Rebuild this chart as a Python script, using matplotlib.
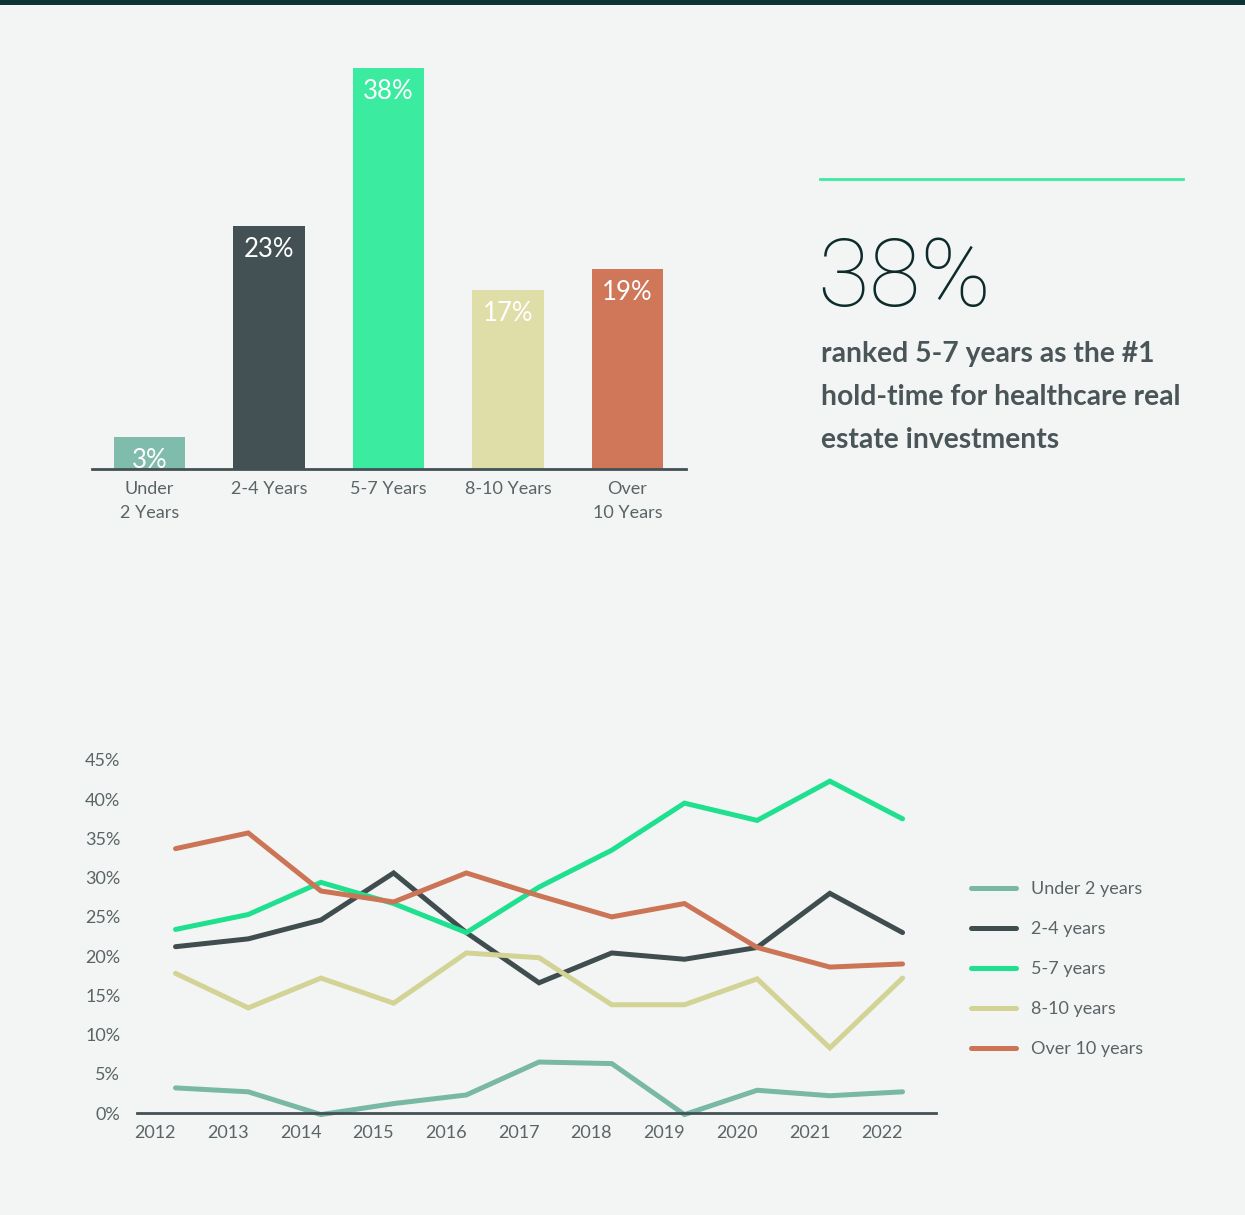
import matplotlib.pyplot as plt
from matplotlib.patches import Rectangle
from matplotlib.lines import Line2D

plt.rcParams["font.family"] = ["Lato", "DejaVu Sans"]

# hold-period survey, share of respondents
hold_labels = ["Under\n2 Years", "2-4 Years", "5-7 Years", "8-10 Years", "Over\n10 Years"]
hold_share = [3, 23, 38, 17, 19]
bar_colors = ["#80bcab", "#435155", "#3beb9f", "#dfdda8", "#d0775a"]

# yearly trend by hold period
years = ["2012", "2013", "2014", "2015", "2016", "2017", "2018", "2019", "2020", "2021", "2022"]
under_2 = [3.2, 2.7, -0.2, 1.2, 2.3, 6.5, 6.3, -0.2, 2.9, 2.2, 2.7]
y_2_4 = [21.2, 22.2, 24.6, 30.6, 23.0, 16.6, 20.4, 19.6, 21.1, 28.0, 23.0]
y_5_7 = [23.4, 25.3, 29.4, 26.7, 23.0, 28.8, 33.5, 39.5, 37.3, 42.3, 37.5]
y_8_10 = [17.8, 13.4, 17.2, 14.0, 20.4, 19.8, 13.8, 13.8, 17.1, 8.3, 17.2]
over_10 = [33.7, 35.7, 28.3, 26.9, 30.6, 27.7, 25.0, 26.7, 21.1, 18.6, 19.0]
series_names = ["Under 2 years", "2-4 years", "5-7 years", "8-10 years", "Over 10 years"]
line_colors = ["#7ab8a6", "#3f4d4f", "#1ee08e", "#d4d396", "#cc7456"]

BG = "#f3f5f4"
TXT = "#5a6466"
W, H = 1245, 1215

fig = plt.figure(figsize=(W / 100, H / 100), dpi=100, facecolor=BG)


def px_axes(left, top, right, bottom):
    return fig.add_axes([left / W, 1 - bottom / H, (right - left) / W, (bottom - top) / H])


# dark strip along the top edge
fig.patches.append(Rectangle((0, 1 - 5 / H), 1, 5 / H, transform=fig.transFigure,
                             facecolor="#0d3336", edgecolor="none"))

# --- bar chart ---
ax = px_axes(92, 47, 686, 469)
ax.set_facecolor("none")
xs = range(len(hold_share))
ax.bar(xs, hold_share, width=0.6, color=bar_colors)
ax.set_xlim(-0.48, 4.49)
ax.set_ylim(0, 40)
for x, v in zip(xs, hold_share):
    ax.annotate(f"{v}%", (x, v), xytext=(0, -17), textcoords="offset points",
                ha="center", va="center", color="white", fontsize=18.5)
ax.set_xticks(list(xs))
ax.set_xticklabels(hold_labels, fontsize=13, color=TXT, linespacing=1.55, va="top")
ax.tick_params(axis="x", length=0, pad=9)
ax.set_yticks([])
for s in ["top", "right", "left"]:
    ax.spines[s].set_visible(False)
ax.spines["bottom"].set_color("#435155")
ax.spines["bottom"].set_linewidth(2)

# --- headline stat ---
fig.add_artist(Line2D([820 / W, 1183 / W], [1 - 179 / H, 1 - 179 / H], color="#3beb9f", lw=2))
fig.text(817 / W, 1 - 306 / H, "38%", fontsize=68, fontweight="light", color="#0d2b2b",
         ha="left", va="baseline", family=["Roboto", "DejaVu Sans"])
fig.text(821 / W, 1 - 341 / H,
         "ranked 5-7 years as the #1\nhold-time for healthcare real\nestate investments",
         fontsize=20.3, fontweight="bold", color="#4a5558", ha="left", va="top", linespacing=1.81)

# --- trend lines ---
lx = px_axes(137, 760, 936, 1113)
lx.set_facecolor("none")
pos = [i + 0.28 for i in range(len(years))]
for vals, name, c in zip([under_2, y_2_4, y_5_7, y_8_10, over_10], series_names, line_colors):
    lx.plot(pos, vals, color=c, lw=3.6, label=name, clip_on=False, solid_capstyle="round",
            solid_joinstyle="miter")
lx.set_xlim(-0.25, 10.74)
lx.set_ylim(0, 45)
lx.set_xticks(range(len(years)))
lx.set_xticklabels(years)
lx.set_yticks(range(0, 50, 5))
lx.set_yticklabels([f"{v}%" for v in range(0, 50, 5)])
lx.tick_params(axis="both", length=0, labelsize=13, labelcolor=TXT)
lx.tick_params(axis="x", pad=9)
lx.tick_params(axis="y", pad=12)
for s in ["top", "right", "left"]:
    lx.spines[s].set_visible(False)
lx.spines["bottom"].set_color("#435155")
lx.spines["bottom"].set_linewidth(2)

fig.legend(loc="center left", bbox_to_anchor=(955 / W, 1 - 969 / H), frameon=False,
           fontsize=13, labelcolor=TXT, handlelength=2.5, handletextpad=0.8, labelspacing=1.33)

fig.savefig("out.png", dpi=100, facecolor=BG)
